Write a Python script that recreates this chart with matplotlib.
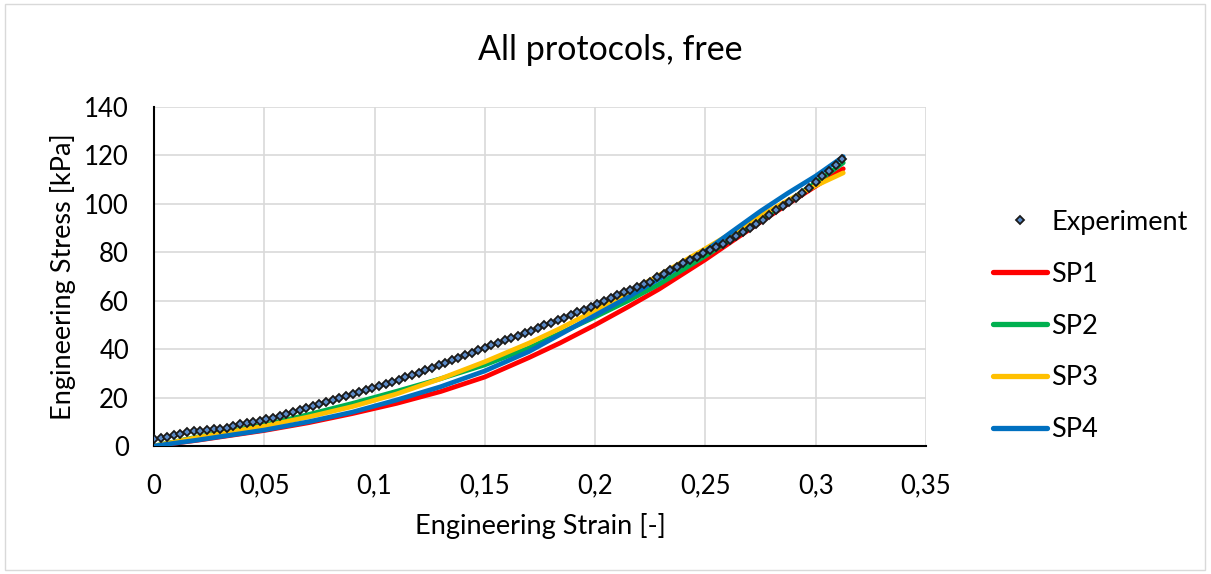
import matplotlib
matplotlib.use("Agg")
import matplotlib.pyplot as plt
from matplotlib.patches import Rectangle

# ---------------- data ----------------
title = "All protocols, free"
x_label = "Engineering Strain [-]"
y_label = "Engineering Stress [kPa]"

x_ticks = [0, 0.05, 0.1, 0.15, 0.2, 0.25, 0.3, 0.35]
x_tick_labels = ["0", "0,05", "0,1", "0,15", "0,2", "0,25", "0,3", "0,35"]
y_ticks = [0, 20, 40, 60, 80, 100, 120, 140]
y_tick_labels = ["0", "20", "40", "60", "80", "100", "120", "140"]

exp_strain = [0.000, 0.003, 0.006, 0.009, 0.012, 0.015, 0.018, 0.021, 0.024, 0.027,
              0.030, 0.033, 0.036, 0.039, 0.042, 0.045, 0.048, 0.051, 0.054, 0.057,
              0.060, 0.063, 0.066, 0.069, 0.072, 0.075, 0.078, 0.081, 0.084, 0.087,
              0.090, 0.093, 0.096, 0.099, 0.102, 0.105, 0.108, 0.111, 0.114, 0.117,
              0.120, 0.123, 0.126, 0.129, 0.132, 0.135, 0.138, 0.141, 0.144, 0.147,
              0.150, 0.153, 0.156, 0.159, 0.162, 0.165, 0.168, 0.171, 0.174, 0.177,
              0.180, 0.183, 0.186, 0.189, 0.192, 0.195, 0.198, 0.201, 0.204, 0.207,
              0.210, 0.213, 0.216, 0.219, 0.222, 0.225, 0.228, 0.231, 0.234, 0.237,
              0.240, 0.243, 0.246, 0.249, 0.252, 0.255, 0.258, 0.261, 0.264, 0.267,
              0.270, 0.273, 0.276, 0.279, 0.282, 0.285, 0.288, 0.291, 0.294, 0.297,
              0.300, 0.303, 0.306, 0.309, 0.312]
exp_stress = [2.8, 3.4, 3.9, 4.5, 5.1, 5.6, 6.0, 6.3, 6.6, 6.9,
              7.1, 7.4, 8.1, 8.9, 9.4, 9.9, 10.3, 11.0, 11.7, 12.4,
              13.3, 14.2, 15.0, 15.8, 16.6, 17.3, 18.0, 18.9, 19.8, 20.6,
              21.4, 22.2, 23.0, 23.8, 24.6, 25.5, 26.4, 27.3, 28.3, 29.2,
              30.2, 31.2, 32.3, 33.3, 34.4, 35.4, 36.5, 37.5, 38.5, 39.5,
              40.5, 41.7, 42.7, 43.7, 44.6, 45.6, 46.6, 47.5, 48.7, 49.9,
              51.0, 52.0, 53.0, 54.1, 55.2, 56.3, 57.4, 58.5, 59.8, 61.1,
              62.4, 63.5, 64.6, 65.6, 66.7, 67.9, 69.6, 71.1, 72.6, 74.0,
              75.4, 76.8, 78.2, 79.6, 80.8, 82.0, 83.3, 85.2, 86.9, 88.4,
              89.9, 91.6, 93.3, 95.3, 97.3, 99.2, 100.8, 102.6, 104.6, 106.6,
              108.9, 111.3, 113.7, 116.1, 118.6]

sp_strain = [0.0, 0.02, 0.05, 0.07, 0.09, 0.11, 0.13, 0.15, 0.17, 0.184, 0.2,
             0.215, 0.229, 0.25, 0.262, 0.275, 0.2875, 0.3, 0.3125]
sp1_stress = [0.0, 2.4, 6.4, 9.6, 13.4, 17.6, 22.5, 28.5, 36.5, 42.5, 50.0,
              57.5, 64.8, 77.0, 84.5, 92.5, 100.0, 107.3, 114.5]
sp2_stress = [0.0, 3.8, 8.7, 13.0, 17.6, 22.6, 27.8, 33.5, 40.5, 46.5, 53.3,
              60.0, 66.8, 78.5, 85.5, 93.5, 101.0, 108.7, 117.0]
sp3_stress = [0.0, 3.6, 8.2, 12.0, 16.3, 21.5, 27.8, 34.8, 42.5, 48.5, 56.0,
              63.5, 70.5, 81.5, 88.0, 95.0, 101.5, 107.5, 112.8]
sp4_stress = [0.0, 2.5, 6.6, 10.0, 14.0, 19.0, 24.5, 31.0, 39.0, 46.0, 54.0,
              61.5, 69.0, 80.5, 88.5, 97.0, 104.5, 111.5, 119.5]

series_names = ["SP1", "SP2", "SP3", "SP4"]
series_values = [sp1_stress, sp2_stress, sp3_stress, sp4_stress]
series_colors = ["#FF0000", "#00B050", "#FFC000", "#0070C0"]

# ---------------- plot ----------------
plt.rcParams['font.family'] = ['Lato', 'DejaVu Sans']

W, H = 1211, 574
fig = plt.figure(figsize=(W / 100, H / 100), dpi=100)
fig.patch.set_facecolor("white")
fig.patches.append(Rectangle((5 / W, 4 / H), 1200 / W, 566 / H, transform=fig.transFigure,
                             fill=False, edgecolor="#D9D9D9", linewidth=1.0))

ax = fig.add_axes([154 / W, 1 - 446 / H, (926 - 154) / W, (446 - 107) / H])

for name, vals, col in zip(series_names, series_values, series_colors):
    ax.plot(sp_strain, vals, color=col, linewidth=3.4, solid_capstyle="round",
            solid_joinstyle="round", label=name, zorder=3)

ax.plot(exp_strain, exp_stress, linestyle="none", marker="D", markersize=4.5,
        markerfacecolor="#5B8BC9", markeredgecolor="#1a1a1a", markeredgewidth=1.3,
        label="Experiment", zorder=4)

ax.set_xlim(0, 0.35)
ax.set_ylim(0, 140)
ax.set_xticks(x_ticks)
ax.set_xticklabels(x_tick_labels)
ax.set_yticks(y_ticks)
ax.set_yticklabels(y_tick_labels)
ax.tick_params(axis="both", length=0, labelsize=18.5, colors="black")
ax.tick_params(axis="x", pad=20)
ax.tick_params(axis="y", pad=18)
ax.grid(True, color="#D9D9D9", linewidth=1.2)
ax.set_axisbelow(True)
for s in ["top", "right"]:
    ax.spines[s].set_visible(False)
for s in ["left", "bottom"]:
    ax.spines[s].set_color("black")
    ax.spines[s].set_linewidth(1.5)

ax.set_xlabel(x_label, fontsize=19.5, labelpad=10)
ax.set_ylabel(y_label, fontsize=19.5, labelpad=6)
fig.text(610 / W, 1 - 50 / H, title, fontsize=24.5, ha="center", va="center")

handles, labels = ax.get_legend_handles_labels()
order = [4, 0, 1, 2, 3]
leg = ax.legend([handles[i] for i in order], [labels[i] for i in order],
                loc="center left", bbox_to_anchor=(993 / W, 1 - 326 / H),
                bbox_transform=fig.transFigure, frameon=False, fontsize=19.5,
                handlelength=2.0, handletextpad=0.15, labelspacing=0.99,
                borderpad=0, borderaxespad=0)
for h in leg.get_lines():
    h.set_linewidth(3.8)

fig.savefig("out.png", dpi=100)
